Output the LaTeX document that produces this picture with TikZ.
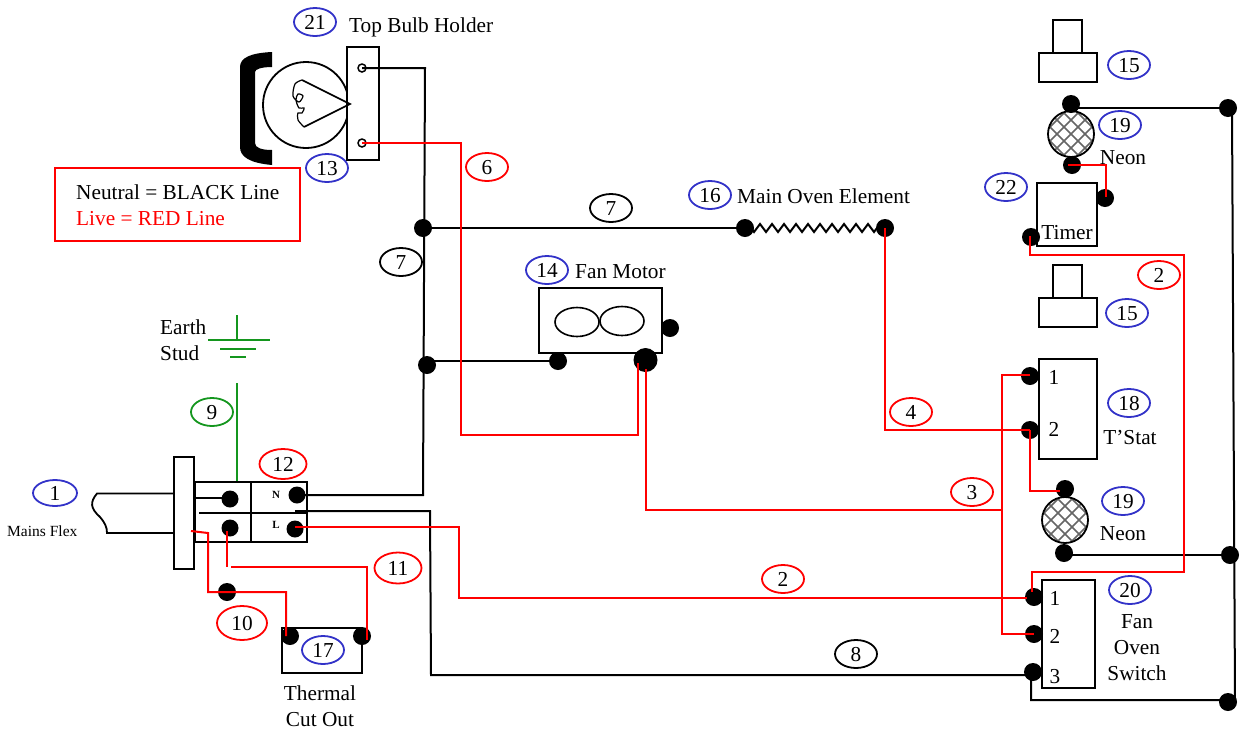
\documentclass[tikz,border=0pt]{standalone}
\usepackage{fontspec}
\setmainfont{Liberation Serif}
\usepackage{tikz}
\usetikzlibrary{shapes,shapes.geometric}
\usetikzlibrary{decorations.pathmorphing}
\definecolor{tagBlue}{RGB}{50,50,200}
\definecolor{earthGreen}{RGB}{20,150,30}
\tikzstyle{txt}=[inner sep=0pt,text height=14pt,text depth=0pt,font=\fontsize{21.3}{24}\selectfont]
\tikzstyle{tag}=[ellipse,draw,line width=1.8pt,minimum width=42pt,minimum height=28pt,inner sep=0pt,text height=14pt,text depth=0pt,font=\fontsize{21.3}{24}\selectfont]
\tikzstyle{tagB}=[tag,draw=tagBlue]
\tikzstyle{tagR}=[tag,draw=red]
\tikzstyle{tagK}=[tag,draw=black]
\tikzstyle{tagG}=[tag,draw=earthGreen]
\tikzstyle{part}=[draw,line width=1.8pt,fill=white,inner sep=0pt]
\tikzstyle{term}=[circle,fill=black,inner sep=0pt,minimum size=18pt]
\tikzstyle{lug}=[circle,draw,line width=1.5pt,fill=white,inner sep=0pt,minimum size=8pt]
\tikzstyle{neutral}=[line width=2pt,black]
\tikzstyle{live}=[line width=2pt,red]
\tikzstyle{earth}=[line width=1.9pt,earthGreen]
\tikzstyle{heater}=[neutral,decorate,decoration={zigzag,segment length=12pt,amplitude=4pt}]
\newcommand{\neonlamp}[3]{
  \begin{scope}
    \clip (#2,#3) circle (23);
    \fill[white] (#2,#3) circle (23);
    \foreach \d in {-42,-28,-14,0,14,28,42} {
      \draw[black!60,line width=1.5pt] (#2+\d-30,#3-30) -- (#2+\d+30,#3+30);
      \draw[black!60,line width=1.5pt] (#2+\d-30,#3+30) -- (#2+\d+30,#3-30);
    }
  \end{scope}
  \node[circle,draw,line width=1.8pt,minimum size=46pt,inner sep=0pt] (#1) at (#2,#3) {};
}
\begin{document}
\begin{tikzpicture}[x=1pt,y=-1pt]
\useasboundingbox (0,0) rectangle (1243,729);

% bulb and holder
\fill (272,52) .. controls (250,53) and (240,58) .. (240,67) -- (240,147) .. controls (240,157) and (250,163) .. (272,165) -- (272,150) .. controls (262,150) and (255,148) .. (255,143) -- (255,72) .. controls (255,69) and (262,67) .. (272,67) -- cycle;
\node[part,circle,minimum size=86pt] (bulb) at (306,105) {};
\node[part,minimum width=32pt,minimum height=113pt] (holder) at (363,103.5) {};
\draw[line width=1.6pt] (302,80) -- (350,104) -- (304,127);
\draw[line width=1.2pt] plot[smooth] coordinates {(302,80) (295,84) (293,96) (299,102) (303,96) (298,94) (296,100) (299,108) (304,108) (302,113) (298,113) (298,120) (304,127)};
\node[lug] (bulbN) at (362,68) {};
\node[lug] (bulbL) at (362,143) {};

% legend
\node[draw=red,line width=1.8pt,minimum width=245pt,minimum height=73pt] (legend) at (177.5,204.5) {};
\node[txt,anchor=west] (legendN) at (76,192) {Neutral = BLACK Line};
\node[txt,anchor=west,text=red] (legendL) at (76,218) {Live = RED Line};

% fan motor
\node[part,minimum width=123pt,minimum height=65pt] (fan) at (600.5,320.5) {};
\node[ellipse,draw,line width=1.6pt,minimum width=44pt,minimum height=29pt,inner sep=0pt] (fanA) at (577,322) {};
\node[ellipse,draw,line width=1.6pt,minimum width=44pt,minimum height=29pt,inner sep=0pt] (fanB) at (622,321) {};
\node[term] (fanP) at (670,328) {};
\node[term] (fanN) at (558,361) {};
\node[term,minimum size=24pt] (fanL) at (645.5,360) {};

% terminal block
\node[part,minimum width=20pt,minimum height=112pt] (plate) at (184,513) {};
\node[part,minimum width=112pt,minimum height=60pt] (block) at (251,512) {};
\draw[line width=1.8pt] (block.north) -- (block.south);
\coordinate (midA) at (199,513);
\coordinate (midB) at (308,513);
\draw[line width=1.6pt] (midA) -- (midB);
\node[term,minimum size=17pt] (blockA) at (230,499) {};
\node[term,minimum size=17pt] (blockB) at (230,528) {};
\node[term,minimum size=17pt] (blockN) at (297,495) {};
\node[term,minimum size=17pt] (blockL) at (295,529) {};
\node[inner sep=0pt,font=\fontsize{11}{12}\selectfont\bfseries] (markN) at (276,495) {N};
\node[inner sep=0pt,font=\fontsize{11}{12}\selectfont\bfseries] (markL) at (276,525) {L};
\coordinate (plateA) at (195,498);
\coordinate (blockAw) at (230,498);
\draw[neutral] (plateA) -- (blockAw);

% mains flex
\coordinate (flexA) at (174,493.5);
\coordinate (flexB) at (97,493.5);
\coordinate (flexC) at (107,533);
\coordinate (flexD) at (174,533);
\draw[line width=1.8pt] (flexA) -- (flexB) .. controls (90,502) and (90,508) .. (100,517) .. controls (105,523) and (107,527) .. (flexC) -- (flexD);

% thermal cut out
\node[part,minimum width=80pt,minimum height=45pt] (cutout) at (322,650.5) {};
\node[term] (cutoutA) at (290,636) {};
\node[term] (cutoutB) at (362,636) {};
\node[term] (wire10) at (227,592) {};

% oven element
\node[term] (elemA) at (745,228) {};
\node[term] (elemB) at (885,228) {};
\node[term] (joinA) at (423,228) {};
\node[term] (joinB) at (427,365) {};

% right hand column
\node[part,minimum width=29pt,minimum height=33pt] (knobA) at (1067.5,36.5) {};
\node[part,minimum width=58pt,minimum height=29pt] (baseA) at (1068,67.5) {};
\neonlamp{neonA}{1071}{134}
\node[term] (neonAt) at (1071,104) {};
\node[term] (neonAb) at (1072,165) {};
\node[part,minimum width=60pt,minimum height=63pt] (timer) at (1067,214.5) {};
\node[term] (timerA) at (1105,198) {};
\node[term] (timerB) at (1031,237) {};
\node[part,minimum width=29pt,minimum height=33pt] (knobB) at (1067.5,281.5) {};
\node[part,minimum width=58pt,minimum height=29pt] (baseB) at (1068,312.5) {};
\node[part,minimum width=58pt,minimum height=100pt] (stat) at (1068,409) {};
\node[term] (statA) at (1030,376) {};
\node[term] (statB) at (1030,430) {};
\neonlamp{neonB}{1065}{520}
\node[term] (neonBt) at (1065,489) {};
\node[term] (neonBb) at (1064,553) {};
\node[part,minimum width=53pt,minimum height=108pt] (switch) at (1068.5,634) {};
\node[term] (switchA) at (1034,597) {};
\node[term] (switchB) at (1034,634) {};
\node[term] (switchC) at (1033,672) {};
\node[term] (railA) at (1228,108) {};
\node[term] (railB) at (1230,555) {};
\node[term] (railC) at (1228,702) {};

% earth
\coordinate (earthA) at (237,315);
\coordinate (earthB) at (237,340);
\coordinate (earthC) at (208,340);
\coordinate (earthD) at (270,340);
\coordinate (earthE) at (220,349);
\coordinate (earthF) at (256,349);
\coordinate (earthG) at (230,357);
\coordinate (earthH) at (246,357);
\coordinate (earthI) at (237,383);
\coordinate (earthJ) at (237,481);
\draw[earth] (earthA) -- (earthB);
\draw[earth] (earthC) -- (earthD);
\draw[earth] (earthE) -- (earthF);
\draw[earth] (earthG) -- (earthH);
\draw[earth] (earthI) -- (earthJ);

% black wires
\coordinate (topN) at (425,68);
\coordinate (midN) at (423,495);
\draw[neutral] (bulbN.center) -- (topN) -- (midN) -- (blockN.center);
\draw[neutral] (joinA.center) -- (elemA.center);
\draw[heater] (elemA.center) -- (elemB.center);
\coordinate (joinBw) at (427,361);
\draw[neutral] (joinBw) -- (fanN.center);
\coordinate (n8a) at (295,511);
\coordinate (n8b) at (430,511);
\coordinate (n8c) at (431,675);
\coordinate (n8d) at (1033,675);
\draw[neutral] (n8a) -- (n8b) -- (n8c) -- (n8d);
\coordinate (railEnd) at (1235,700);
\coordinate (railTop) at (1232,108);
\coordinate (botA) at (1031,700);
\coordinate (botB) at (1031,672);
\coordinate (neonAw) at (1071,108);
\coordinate (neonBw) at (1064,555);
\draw[neutral] (neonAw) -- (railA.center |- neonAw);
\draw[neutral] (railTop) -- (railEnd) -- (botA) -- (botB);
\draw[neutral] (neonBw) -- (railB.center |- neonBw);

% red wires
\coordinate (r6) at (461,435);
\coordinate (r6end) at (638,363);
\draw[live] (bulbL.center) -| (r6) -| (r6end);
\coordinate (r3a) at (646,369);
\coordinate (r3b) at (1002,510);
\draw[live] (r3a) |- (r3b);
\coordinate (r3top) at (1002,375);
\coordinate (r3bot) at (1002,634);
\coordinate (statAw) at (1030,375);
\draw[live] (statAw) -- (r3top) -- (r3bot) -- (switchB.center);
\draw[live] (elemB.center) |- (statB.center);
\coordinate (r5) at (1060,491);
\draw[live] (statB.center) |- (r5);
\coordinate (r2a) at (295,527);
\coordinate (r2c) at (459,598);
\coordinate (r2d) at (1027,598);
\draw[live] (r2a) -| (r2c) -- (r2d);
\coordinate (rnA) at (1068,165);
\coordinate (rnC) at (1106,197);
\draw[live] (rnA) -| (rnC);
\coordinate (rtA) at (1030,236);
\coordinate (rtB) at (1184,255);
\coordinate (rtC) at (1032,572);
\coordinate (rtD) at (1032,592);
\draw[live] (rtA) |- (rtB) |- (rtC) -- (rtD);
\coordinate (r10a) at (191,531);
\coordinate (r10b) at (208,533);
\coordinate (r10c) at (208,592);
\coordinate (r10d) at (286,592);
\coordinate (r10e) at (286,636);
\draw[live] (r10a) -- (r10b) -- (r10c) -- (r10d) -- (r10e);
\coordinate (r11a) at (227,531);
\coordinate (r11b) at (227,567);
\coordinate (r11c) at (231,567);
\coordinate (r11e) at (367,640);
\draw[live] (r11a) -- (r11b);
\draw[live] (r11c) -| (r11e);

% numbers
\node[tagB] (t21) at (315,22) {21};
\node[tagB] (t13) at (327,168) {13};
\node[tagR] (t6) at (487,167) {6};
\node[tagK] (t7a) at (611,208) {7};
\node[tagB] (t16) at (710,195) {16};
\node[tagK] (t7b) at (401,262) {7};
\node[tagB] (t14) at (547,270) {14};
\node[tagG] (t9) at (212,412) {9};
\node[tagR,minimum width=47pt,minimum height=30pt] (t12) at (283,464) {12};
\node[tagB,minimum width=44pt,minimum height=26pt] (t1) at (55,493) {1};
\node[tagR,minimum width=50pt,minimum height=34pt] (t10) at (242,623) {10};
\node[tagR,minimum width=47pt,minimum height=31pt] (t11) at (398,568) {11};
\node[tagB] (t17) at (323,650) {17};
\node[tagR] (t2a) at (783,579) {2};
\node[tagK] (t8) at (856,654) {8};
\node[tagB] (t15a) at (1129,65) {15};
\node[tagB] (t19a) at (1120,125) {19};
\node[tagB] (t22) at (1006,187) {22};
\node[tagR] (t2b) at (1159,275) {2};
\node[tagB] (t15b) at (1127,313) {15};
\node[tagB] (t18) at (1129,403) {18};
\node[tagR] (t4) at (911,412) {4};
\node[tagR] (t3) at (972,492) {3};
\node[tagB] (t19b) at (1123,501) {19};
\node[tagB] (t20) at (1130,590) {20};

% labels
\node[txt,anchor=west] (lTop) at (349,25) {Top Bulb Holder};
\node[txt,anchor=west] (lElem) at (737,196) {Main Oven Element};
\node[txt,anchor=west] (lFan) at (575,271) {Fan Motor};
\node[txt,anchor=west] (lEarth) at (160,327) {Earth};
\node[txt,anchor=west] (lStud) at (160,353) {Stud};
\node[inner sep=0pt,anchor=west,text height=10pt,text depth=0pt,font=\fontsize{15.5}{17}\selectfont] (lFlex) at (7,531) {Mains Flex};
\node[txt] (lTherm) at (320,693) {Thermal};
\node[txt] (lCut) at (320,719) {Cut Out};
\node[txt] (lNeonA) at (1123,157) {Neon};
\node[txt] (lTimer) at (1067,232) {Timer};
\node[txt] (lStat) at (1130,437) {T’Stat};
\node[txt] (lNeonB) at (1123,533) {Neon};
\node[txt] (lFanS) at (1137,621) {Fan};
\node[txt] (lOven) at (1137,647) {Oven};
\node[txt] (lSwitch) at (1137,673) {Switch};
\node[txt] (s1) at (1054,377) {1};
\node[txt] (s2) at (1054,429) {2};
\node[txt] (u1) at (1055,598) {1};
\node[txt] (u2) at (1055,636) {2};
\node[txt] (u3) at (1055,676) {3};
\end{tikzpicture}
\end{document}
